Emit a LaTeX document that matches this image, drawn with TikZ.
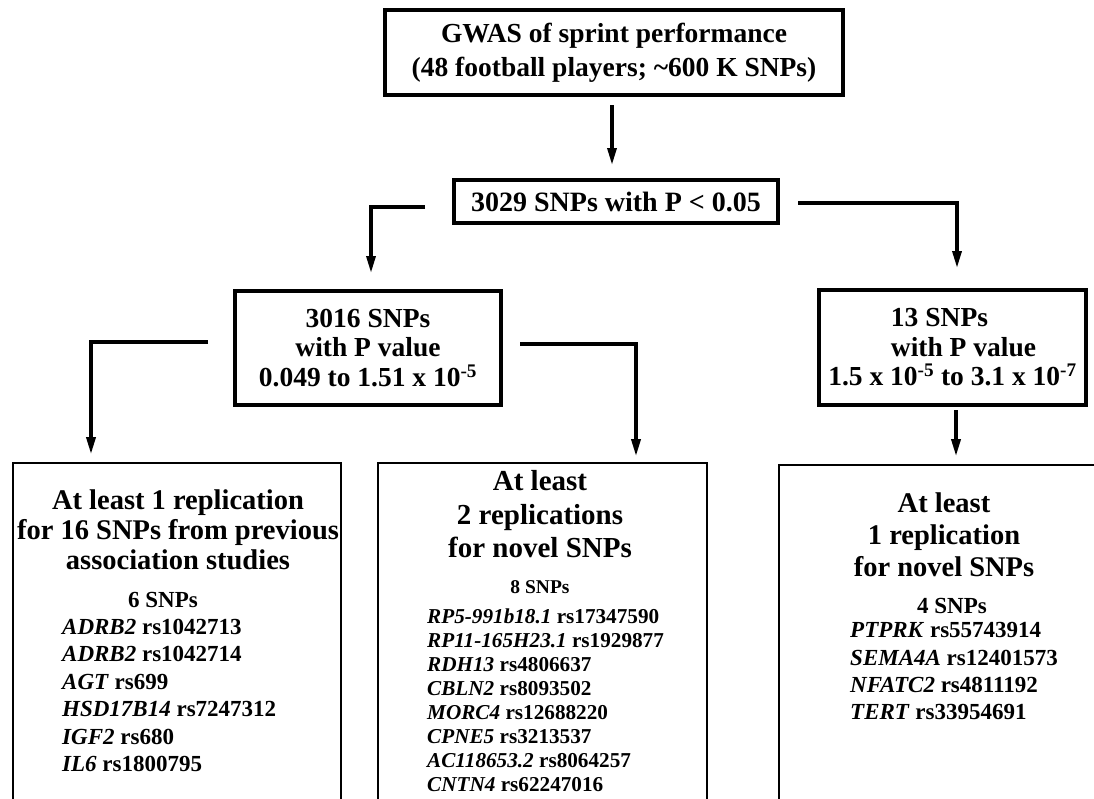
\documentclass[tikz,border=0pt]{standalone}
\usepackage{fontspec}
\setmainfont{Liberation Serif}
\usetikzlibrary{arrows.meta,positioning}

\begin{document}
\begin{tikzpicture}[
    x=1pt, y=-1pt,
    box/.style={
        draw,
        line width=4pt,
        align=center,
        inner sep=0pt,
        font=\bfseries\fontsize{27.5}{29.5}\selectfont
    },
    resultbox/.style={draw, line width=1.6pt, inner sep=0pt},
    headtext/.style={align=center, inner sep=0pt, anchor=north},
    counttext/.style={inner sep=0pt, anchor=base},
    listtext/.style={align=left, inner sep=0pt, anchor=north west},
    arrow/.style={-{Triangle[length=17pt,width=9pt]}, line width=3.3pt}
]
\useasboundingbox (0,0) rectangle (1094,798);
\clip (0,0) rectangle (1094,798);

\node[box, minimum width=458, minimum height=85, font=\bfseries\fontsize{27.5}{34}\selectfont] (gwas) at (614,52.5)
    {GWAS of sprint performance\\(48 football players; \textasciitilde600 K SNPs)};
\node[box, minimum width=324, minimum height=43, font=\bfseries\fontsize{28}{30}\selectfont] (sig) at (616,201.5)
    {3029 SNPs with P < 0.05};
\node[box, minimum width=266, minimum height=114] (wide) at (368,348)
    {3016 SNPs\\with P value\\0.049 to 1.51 x 10\textsuperscript{-5}};
\node[box, minimum width=267, minimum height=115] (strong) at (952.5,347.5)
    {13 SNPs\hspace*{26pt}\\\hspace*{22pt}with P value\\1.5 x 10\textsuperscript{-5} to 3.1 x 10\textsuperscript{-7}};

% result boxes run off the page
\node[resultbox, minimum width=328, minimum height=357] (prevlit) at (177,641.5) {};
\node[resultbox, minimum width=329, minimum height=357] (novtwo) at (542.5,641.5) {};
\node[resultbox, minimum width=330, minimum height=355] (novone) at (944,642.5) {};

\node[headtext, font=\bfseries\fontsize{28.5}{30}\selectfont] (prevhead) at (178,490)
    {At least 1 replication\\for 16 SNPs from previous\\association studies};
\node[counttext, font=\bfseries\fontsize{23}{27.5}\selectfont] (prevcount) at (163,607) {6 SNPs};
\node[listtext, font=\bfseries\fontsize{23}{27.5}\selectfont] (prevlist) at (62,618.5)
    {\textit{ADRB2} rs1042713\\\textit{ADRB2} rs1042714\\\textit{AGT} rs699\\\textit{HSD17B14} rs7247312\\\textit{IGF2} rs680\\\textit{IL6} rs1800795};

\node[headtext, font=\bfseries\fontsize{29}{33.5}\selectfont] (twohead) at (540,470.5)
    {At least\\2 replications\\for novel SNPs};
\node[counttext, font=\bfseries\fontsize{19.5}{24}\selectfont] (twocount) at (540,593) {8 SNPs};
\node[listtext, font=\bfseries\fontsize{21.2}{24}\selectfont] (twolist) at (427,608.5)
    {\textit{RP5-991b18.1} rs17347590\\\textit{RP11-165H23.1} rs1929877\\\textit{RDH13} rs4806637\\\textit{CBLN2} rs8093502\\\textit{MORC4} rs12688220\\\textit{CPNE5} rs3213537\\\textit{AC118653.2} rs8064257\\\textit{CNTN4} rs62247016};

\node[headtext, font=\bfseries\fontsize{28.5}{32}\selectfont] (onehead) at (944,492.5)
    {At least\\1 replication\\for novel SNPs};
\node[counttext, font=\bfseries\fontsize{23}{27.3}\selectfont] (onecount) at (952,613) {4 SNPs};
\node[listtext, font=\bfseries\fontsize{23}{27.3}\selectfont] (onelist) at (850,622.5)
    {\textit{PTPRK} rs55743914\\\textit{SEMA4A} rs12401573\\\textit{NFATC2} rs4811192\\\textit{TERT} rs33954691};

\draw[arrow, shorten <=8pt, shorten >=13pt] ([xshift=-2pt]gwas.south) -- ([xshift=-2pt]gwas.south |- sig.north);
\draw[arrow, shorten >=16pt] ([xshift=-27pt, yshift=-5.5pt]sig.west) -| ([xshift=3pt]wide.north);
\draw[arrow, shorten >=20pt] ([xshift=18pt, yshift=-1.5pt]sig.east) -| ([xshift=4.5pt]strong.north);
\draw[arrow, shorten >=8pt] ([xshift=-25pt, yshift=6pt]wide.west) -| ([xshift=-86pt]prevlit.north);
\draw[arrow, shorten >=6pt] ([xshift=17pt, yshift=4pt]wide.east) -| ([xshift=93.5pt]novtwo.north);
\draw[arrow, shorten <=3pt, shorten >=8pt] ([xshift=3.5pt]strong.south) -- ([xshift=3.5pt]strong.south |- novone.north);
\end{tikzpicture}
\end{document}
